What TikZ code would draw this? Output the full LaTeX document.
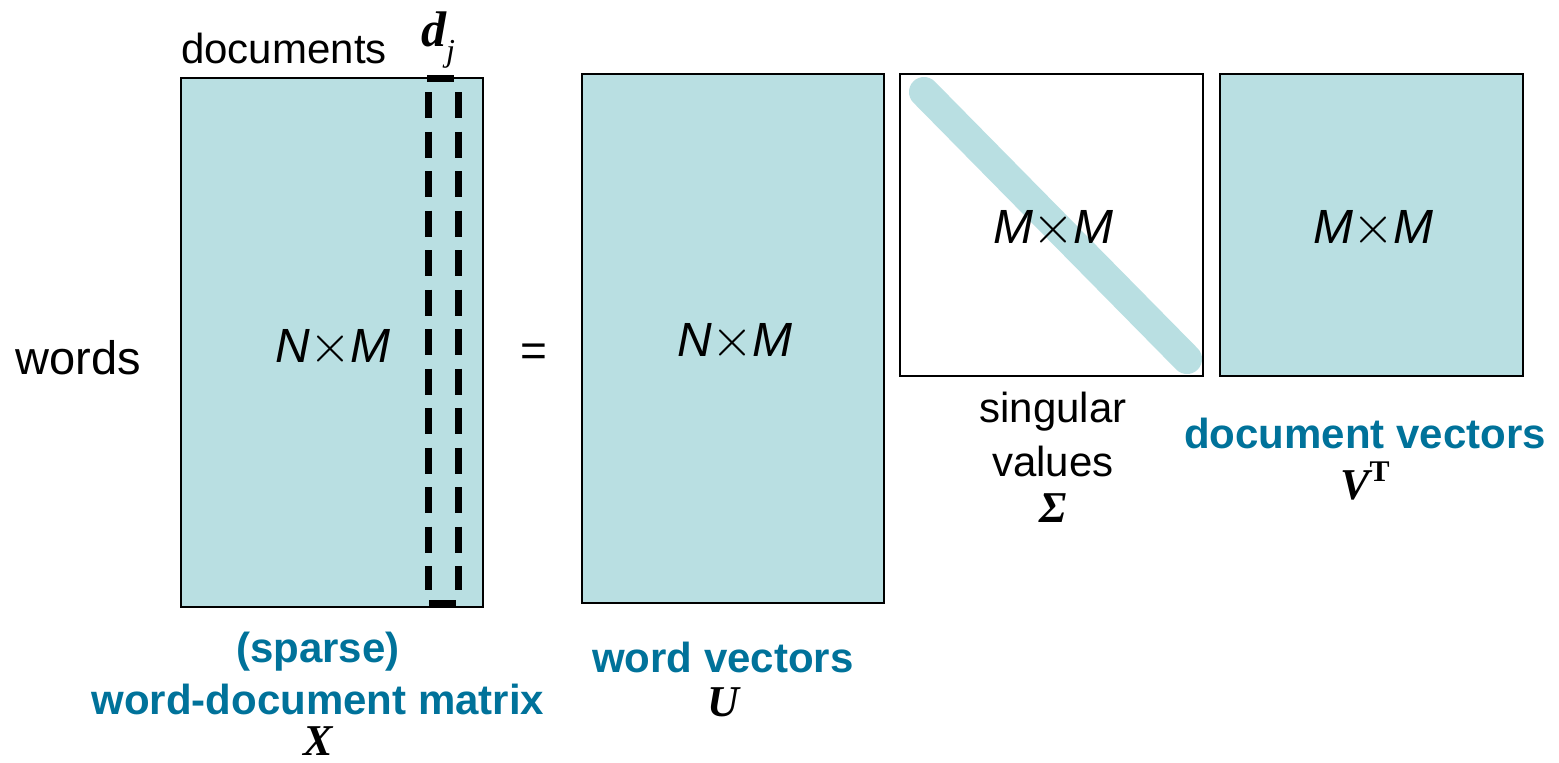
\documentclass[tikz,border=0pt]{standalone}
\usepackage{graphicx}
\usepackage{fontspec}
\setmainfont{Liberation Sans}
\newfontfamily\serifbi{Liberation Serif}
\definecolor{matfill}{HTML}{B9DFE2}
\definecolor{teal}{HTML}{00729A}
\newcommand{\fs}[1]{\fontsize{#1}{#1}\selectfont}
\newcommand{\bmath}[1]{{\serifbi\bfseries\itshape #1}}
\newcommand{\bigx}{\raisebox{-0.5pt}{\normalsize\scalebox{5.4}{$\times$}}}
\newcommand{\NxM}[2]{{\fs{48}\itshape #1\upshape{}\kern-1pt\bigx\kern-1pt\itshape #2}}
\begin{document}
\begin{tikzpicture}[x=1pt,y=-1pt,
  mat/.style={draw=black,line width=1.5pt,fill=matfill,inner sep=0pt},
  lbl/.style={font=\fs{42},text=black,align=center,inner sep=0pt},
  tlbl/.style={font=\fs{42}\bfseries,text=teal,align=center,inner sep=0pt},
  ml/.style={font=\fs{44},inner sep=0pt},
  colline/.style={line width=7pt,dash pattern=on 26pt off 13.5pt},
  colbar/.style={line width=7pt}]
\useasboundingbox (0,0) rectangle (1559,763);
% matrix X
\node[mat,minimum width=302pt,minimum height=529pt] (X) at (332,342.5) {};
\node[inner sep=0pt] (Xt) at (333,348) {\NxM{N}{M}};
% dashed column
\coordinate (c1t) at (428,92);
\coordinate (c1b) at (428,590);
\coordinate (c2t) at (458,92);
\coordinate (c2b) at (458,590);
\draw[colline] (c1t) -- (c1b);
\draw[colline] (c2t) -- (c2b);
\coordinate (bt1) at (427,78);
\coordinate (bt2) at (454,78);
\coordinate (bb1) at (429,603);
\coordinate (bb2) at (456,603);
\draw[colbar] (bt1) -- (bt2);
\draw[colbar] (bb1) -- (bb2);
\node[inner sep=0pt,font=\fs{50}] (dj) at (438,40) {\bmath{d}\raisebox{-0.3em}{\fs{32}\serifbi\itshape j}};
\node[lbl] (docs) at (284,48) {documents};
\node[lbl,font=\fs{47}] (words) at (78,358) {words};
\node[lbl,font=\fs{46}] (eq) at (534,355) {=};
% matrix U
\node[mat,minimum width=302pt,minimum height=529pt] (U) at (733,338.5) {};
\node[inner sep=0pt] (Ut) at (735,342) {\NxM{N}{M}};
% Sigma
\node[mat,fill=white,minimum width=303pt,minimum height=302pt] (S) at (1051.5,225) {};
\coordinate (d1) at (924,92);
\coordinate (d2) at (1187,359);
\draw[matfill,line width=30pt,line cap=round] (d1) -- (d2);
\node[inner sep=0pt] (St) at (1053,229) {\NxM{M}{M}};
% V^T
\node[mat,minimum width=303pt,minimum height=302pt] (V) at (1371.5,225) {};
\node[inner sep=0pt] (Vt) at (1373,229) {\NxM{M}{M}};
% labels
\node[lbl] (sing) at (1053,412) {singular};
\node[lbl] (vals) at (1053,461) {values};
\node[ml] (sig) at (1053,508) {\bmath{Σ}};
\node[tlbl] (dv) at (1365,433) {document vectors};
\node[ml] (vT) at (1365,481) {\bmath{V}\raisebox{0.42em}{\fs{30}\serifbi\bfseries T}};
\node[tlbl] (wv) at (723,657) {word vectors};
\node[ml] (uU) at (723,702) {\bmath{U}};
\node[tlbl] (sp) at (318,652) {(sparse)};
\node[tlbl] (wdm) at (318,699) {word-document matrix};
\node[ml] (xX) at (318,741) {\bmath{X}};
\end{tikzpicture}
\end{document}
